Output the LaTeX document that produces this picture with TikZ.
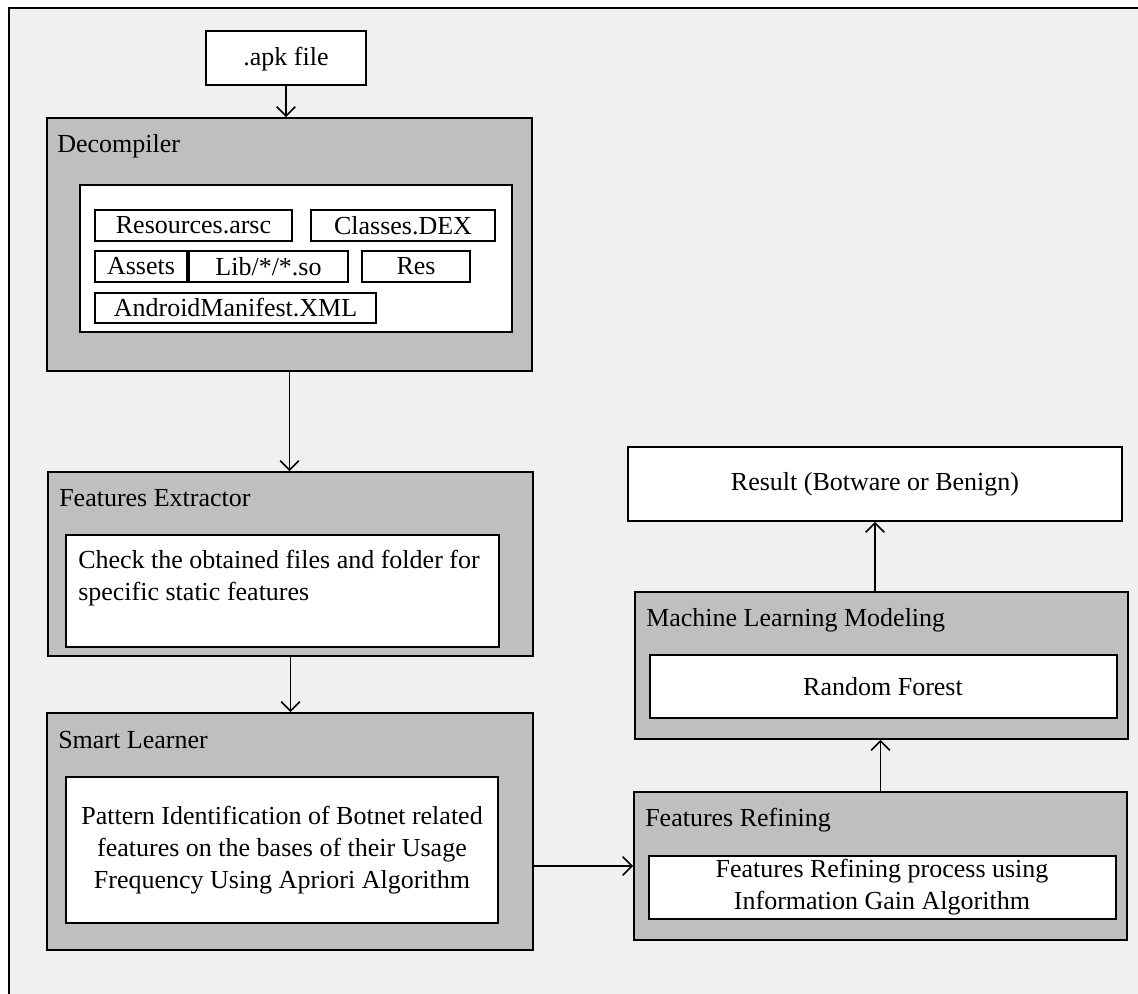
\documentclass[tikz,border=0pt]{standalone}
\usepackage{fontspec}
\setmainfont{Liberation Serif}
\usetikzlibrary{arrows.meta,fit}
\definecolor{bgfill}{HTML}{F0F0F0}
\definecolor{boxgray}{HTML}{BFBFBF}
\tikzset{
  x=0.75pt, y=-0.75pt,
  graybox/.style={draw=black, line width=1.2pt, fill=boxgray, inner sep=0pt},
  whitebox/.style={draw=black, line width=1.2pt, fill=white, inner sep=0pt},
  txt/.style={font=\fontsize{19.5pt}{24pt}\selectfont, inner sep=0pt},
  ttl/.style={txt, anchor=base west},
  arr/.style={draw=black, line width=1.2pt, -{Straight Barb[length=7pt,width=14pt,line width=1.2pt]}}
}
\begin{document}
\begin{tikzpicture}
\useasboundingbox (0,0) rectangle (1138,994);
\fill[white] (0,0) rectangle (1138,994);
\begin{scope}
\clip (0,0) rectangle (1138,994);
\draw[fill=bgfill, line width=1.5pt] (9,8) rectangle (1160,1020);
\end{scope}

% .apk file
\node[whitebox, fit={(206,31) (366,85)}] (apk) {};
\node[txt, anchor=base] (apkt) at (286,66) {.apk file};

% Decompiler
\node[graybox, fit={(47,118) (532,371)}] (dec) {};
\node[ttl] (dect) at (57,153) {Decompiler};
\node[whitebox, fit={(80,185) (512,332)}] (deci) {};
\node[whitebox, fit={(95,210) (292,241)}] (resarsc) {};
\node[txt] at (resarsc.center) {Resources.arsc};
\node[whitebox, fit={(311,210) (495,241)}] (classes) {};
\node[txt] at (classes.center) {Classes.DEX};
\node[whitebox, fit={(95,251) (187,282)}] (assets) {};
\node[txt] at (assets.center) {Assets};
\node[whitebox, fit={(189,251) (348,282)}] (lib) {};
\node[txt] at (lib.center) {Lib/*/*.so};
\node[whitebox, fit={(362,251) (470,282)}] (res) {};
\node[txt] at (res.center) {Res};
\node[whitebox, fit={(95,293) (376,323)}] (manifest) {};
\node[txt] at (manifest.center) {AndroidManifest.XML};

% Features Extractor
\node[graybox, fit={(48,472) (533,656)}] (fe) {};
\node[ttl] (fet) at (59,506) {Features Extractor};
\node[whitebox, fit={(66,535) (499,647)}] (fei) {};
\node[txt, align=left, anchor=west] (fetx) at (78,578) {Check the obtained files and folder for\\specific static features};

% Smart Learner
\node[graybox, fit={(47,713) (533,950)}] (sl) {};
\node[ttl] (slt) at (58,748) {Smart Learner};
\node[whitebox, fit={(66,777) (498,923)}] (sli) {};
\node[txt, align=center] (sltx) at (282,850) {Pattern Identification of Botnet related\\features on the bases of their Usage\\Frequency Using Apriori Algorithm};

% Features Refining
\node[graybox, fit={(634,792) (1127,940)}] (fr) {};
\node[ttl] (frt) at (645,826) {Features Refining};
\node[whitebox, fit={(649,856) (1116,919)}] (fri) {};
\node[txt, align=center] (frtx) at (882,887) {Features Refining process using\\Information Gain Algorithm};

% Machine Learning Modeling
\node[graybox, fit={(635,592) (1128,739)}] (ml) {};
\node[ttl] (mlt) at (646,626) {Machine Learning Modeling};
\node[whitebox, fit={(650,655) (1117,718)}] (mli) {};
\node[txt] (mltx) at (883,687) {Random Forest};

% Result
\node[whitebox, fit={(628,447) (1122,521)}] (result) {};
\node[txt] (resultt) at (875,484) {Result (Botware or Benign)};

% connectors
\draw[arr] (apk.south) -- (apk.south |- dec.north);
\draw[arr] (dec.south) -- (dec.south |- fe.north);
\draw[arr] (fe.south) -- (fe.south |- sl.north);
\draw[arr] (sl.east |- fr.west) -- (fr.west);
\draw[arr] (fr.north) -- (fr.north |- ml.south);
\draw[arr] (result.south |- ml.north) -- (result.south);
\end{tikzpicture}
\end{document}
